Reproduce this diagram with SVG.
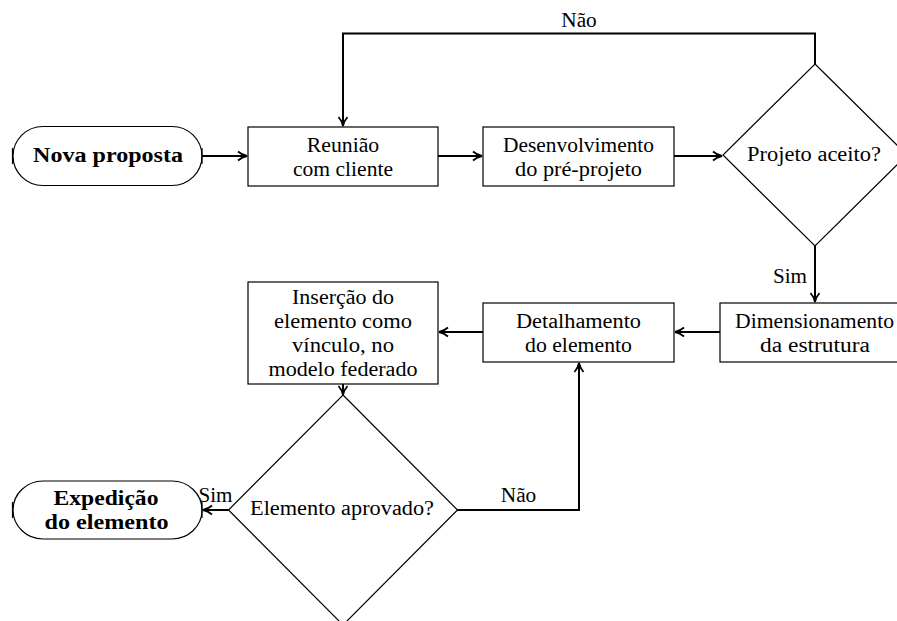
<svg xmlns="http://www.w3.org/2000/svg" width="897" height="621" viewBox="0 0 897 621" font-family="Liberation Serif, serif">
<style>
.shape{fill:#fff;stroke:#000;stroke-width:1.2}
.tick{stroke:#000;stroke-width:1.2}
.conn{fill:none;stroke:#000;stroke-width:2}
text{font-family:'Liberation Serif',serif;font-size:20px;fill:#000;text-anchor:middle}
.b{font-weight:bold}
</style>
<defs>
<marker id="arr" viewBox="0 0 12 12" refX="10" refY="6" markerWidth="12" markerHeight="12" markerUnits="userSpaceOnUse" orient="auto">
<path d="M1,1.5 Q5,5 10,6 Q5,7 1,10.5" fill="none" stroke="#000" stroke-width="1.8"/>
</marker>
</defs>
<rect width="897" height="621" fill="#fff"/>
<g id="connectors">
<path class="conn" d="M202,156 L247,156" marker-end="url(#arr)"/>
<path class="conn" d="M438,156 L482,156" marker-end="url(#arr)"/>
<path class="conn" d="M674,156 L722,156" marker-end="url(#arr)"/>
<path class="conn" d="M815,64 L815,33.5 L343,33.5 L343,126" marker-end="url(#arr)"/>
<text x="579" y="27" textLength="35.5" lengthAdjust="spacingAndGlyphs">Não</text>
<path class="conn" d="M815,246 L815,302" marker-end="url(#arr)"/>
<text x="790" y="283" textLength="34" lengthAdjust="spacingAndGlyphs">Sim</text>
<path class="conn" d="M720,332 L675,332" marker-end="url(#arr)"/>
<path class="conn" d="M483,332 L439,332" marker-end="url(#arr)"/>
<path class="conn" d="M343,384 L343,395" marker-end="url(#arr)"/>
<path class="conn" d="M457,510 L579,510 L579,363" marker-end="url(#arr)"/>
<text x="518.5" y="502" textLength="35.5" lengthAdjust="spacingAndGlyphs">Não</text>
<path class="conn" d="M229,510 L203,510" marker-end="url(#arr)"/>
<text x="215.5" y="502" textLength="34" lengthAdjust="spacingAndGlyphs">Sim</text>
</g>
<g id="nova-proposta">
<rect class="shape" x="13" y="126.5" width="189" height="59" rx="30" ry="29.5"/>
<line class="tick" x1="12.5" y1="148" x2="12.5" y2="164"/>
<line class="tick" x1="202" y1="148" x2="202" y2="164"/>
<text class="b" x="108" y="162" textLength="150" lengthAdjust="spacingAndGlyphs">Nova proposta</text>
</g>
<g id="reuniao">
<rect class="shape" x="248" y="127" width="190" height="59"/>
<text x="343" y="151.5" textLength="72.5" lengthAdjust="spacingAndGlyphs">Reunião</text>
<text x="343" y="175.5" textLength="100" lengthAdjust="spacingAndGlyphs">com cliente</text>
</g>
<g id="desenvolvimento">
<rect class="shape" x="483" y="127" width="191" height="59"/>
<text x="578.5" y="151.5" textLength="151" lengthAdjust="spacingAndGlyphs">Desenvolvimento</text>
<text x="578.5" y="175.5" textLength="127" lengthAdjust="spacingAndGlyphs">do pré-projeto</text>
</g>
<g id="projeto-aceito">
<polygon class="shape" points="815,64 907,155 815,246 723,155"/>
<text x="814" y="161" textLength="134" lengthAdjust="spacingAndGlyphs">Projeto aceito?</text>
</g>
<g id="dimensionamento">
<rect class="shape" x="720" y="303" width="190" height="59"/>
<text x="814.5" y="328" textLength="159" lengthAdjust="spacingAndGlyphs">Dimensionamento</text>
<text x="815" y="352" textLength="110" lengthAdjust="spacingAndGlyphs">da estrutura</text>
</g>
<g id="detalhamento">
<rect class="shape" x="483" y="303" width="191" height="59"/>
<text x="578.5" y="328" textLength="125" lengthAdjust="spacingAndGlyphs">Detalhamento</text>
<text x="578.5" y="352" textLength="107" lengthAdjust="spacingAndGlyphs">do elemento</text>
</g>
<g id="insercao">
<rect class="shape" x="248" y="282" width="190" height="102"/>
<text x="343" y="304" textLength="102" lengthAdjust="spacingAndGlyphs">Inserção do</text>
<text x="343" y="328" textLength="138" lengthAdjust="spacingAndGlyphs">elemento como</text>
<text x="343" y="352" textLength="102" lengthAdjust="spacingAndGlyphs">vínculo, no</text>
<text x="343" y="376" textLength="149" lengthAdjust="spacingAndGlyphs">modelo federado</text>
</g>
<g id="elemento-aprovado">
<polygon class="shape" points="343,395 457.5,510 343,625 228.5,510"/>
<text x="342" y="515" textLength="184" lengthAdjust="spacingAndGlyphs">Elemento aprovado?</text>
</g>
<g id="expedicao">
<rect class="shape" x="13" y="481" width="189" height="58" rx="30" ry="29"/>
<line class="tick" x1="12.5" y1="502" x2="12.5" y2="518"/>
<line class="tick" x1="202" y1="502" x2="202" y2="518"/>
<text class="b" x="106" y="505" textLength="105" lengthAdjust="spacingAndGlyphs">Expedição</text>
<text class="b" x="106.5" y="529" textLength="124" lengthAdjust="spacingAndGlyphs">do elemento</text>
</g>
</svg>
